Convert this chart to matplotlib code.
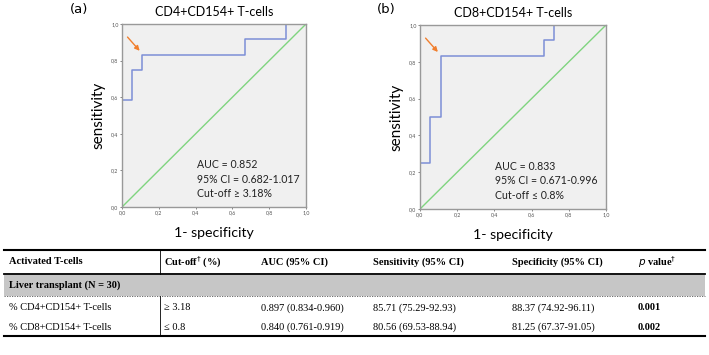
import matplotlib.pyplot as plt
from matplotlib.lines import Line2D

plt.rcParams['font.family'] = ['Lato', 'DejaVu Sans']

# ROC step curves
fpr_cd4 = [0.0, 0.0, 0.056, 0.056, 0.111, 0.111, 0.667, 0.667, 0.889, 0.889, 1.0]
tpr_cd4 = [0.0, 0.583, 0.583, 0.75, 0.75, 0.833, 0.833, 0.917, 0.917, 1.0, 1.0]
fpr_cd8 = [0.0, 0.0, 0.056, 0.056, 0.111, 0.111, 0.667, 0.667, 0.722, 0.722, 1.0]
tpr_cd8 = [0.0, 0.25, 0.25, 0.5, 0.5, 0.833, 0.833, 0.917, 0.917, 1.0, 1.0]

panels = ["(a)", "(b)"]
titles = ["CD4+CD154+ T-cells", "CD8+CD154+ T-cells"]
notes = [["AUC = 0.852", "95% CI = 0.682-1.017", "Cut-off \u2265 3.18%"],
         ["AUC = 0.833", "95% CI = 0.671-0.996", "Cut-off \u2264 0.8%"]]
tick_vals = [0.0, 0.2, 0.4, 0.6, 0.8, 1.0]
tick_labels = ["0,0", "0,2", "0,4", "0,6", "0,8", "1,0"]

# table content
headers = ["Activated T-cells", "Cut-off$^{\u2020}$ (%)", "AUC (95% CI)",
           "Sensitivity (95% CI)", "Specificity (95% CI)", "$p$ value$^{\u2020}$"]
group_label = "Liver transplant (N = 30)"
rows = [["% CD4+CD154+ T-cells", "\u2265 3.18", "0.897 (0.834-0.960)",
         "85.71 (75.29-92.93)", "88.37 (74.92-96.11)", "0.001"],
        ["% CD8+CD154+ T-cells", "\u2264 0.8", "0.840 (0.761-0.919)",
         "80.56 (69.53-88.94)", "81.25 (67.37-91.05)", "0.002"]]

W, H = 709, 355
fig = plt.figure(figsize=(W / 100, H / 100), dpi=100)

blue = "#7d8fd6"
green = "#7fd47f"
orange = "#f07f2e"

boxes = [(122, 24, 306, 207), (420, 25, 606, 209)]
curves = [(fpr_cd4, tpr_cd4), (fpr_cd8, tpr_cd8)]

for i in range(2):
    x0, y0, x1, y1 = boxes[i]
    ax = fig.add_axes([x0 / W, 1 - y1 / H, (x1 - x0) / W, (y1 - y0) / H])
    ax.set_facecolor("#f0f0f0")
    fx, ty = curves[i]
    ax.plot([0, 1], [0, 1], color=green, lw=1)
    ax.plot(fx, ty, color=blue, lw=1.1)
    ax.set_xlim(0, 1)
    ax.set_ylim(0, 1)
    ax.set_xticks(tick_vals)
    ax.set_xticklabels(tick_labels)
    ax.set_yticks(tick_vals)
    ax.set_yticklabels(tick_labels)
    ax.tick_params(labelsize=3.8, length=1.5, width=0.5, pad=1, colors="#555555")
    for s in ax.spines.values():
        s.set_color("#999999")
        s.set_linewidth(1)
    ax.annotate("", xy=(0.106, 0.842), xytext=(0.02, 0.94),
                arrowprops=dict(arrowstyle="-|>", color=orange, lw=1,
                                mutation_scale=7))
    for k, line in enumerate(notes[i]):
        ax.text(0.405, 0.23 - k * 0.077, line, fontsize=7.6, va="center",
                color="#222222")
    ax.set_ylabel("sensitivity", fontsize=11, labelpad=4)
    ax.set_xlabel("1- specificity", fontsize=10.2, labelpad=8)
    ax.set_title(titles[i], fontsize=9, pad=6)

# overlay in pixel coordinates for panel letters and table
ov = fig.add_axes([0, 0, 1, 1])
ov.set_xlim(0, W)
ov.set_ylim(H, 0)
ov.axis("off")
ov.text(70, 10, panels[0], fontsize=9.5, va="center", family="DejaVu Sans")
ov.text(377, 10, panels[1], fontsize=9.5, va="center", family="DejaVu Sans")

serif = ["Liberation Serif", "DejaVu Serif"]
col_x = [9, 164, 261, 373, 512, 638]
top, head_bot, band_bot, bot = 250, 274, 296, 336
row_y = [308, 327]
fs = 7.5

ov.add_line(Line2D([4, 705], [top, top], color="black", lw=1.5))
ov.add_line(Line2D([4, 705], [head_bot, head_bot], color="black", lw=1.3))
ov.fill_between([4, 705], head_bot + 0.7, band_bot, color="#c6c6c6", lw=0)
ov.add_line(Line2D([4, 705], [band_bot, band_bot], color="#555555", lw=0.6,
                   ls=(0, (1.5, 1.5))))
ov.add_line(Line2D([4, 705], [bot, bot], color="black", lw=1.5))
ov.add_line(Line2D([160, 160], [top, head_bot], color="black", lw=0.6))
ov.add_line(Line2D([160, 160], [band_bot, bot], color="black", lw=0.6))

for j, h in enumerate(headers):
    ov.text(col_x[j], (top + head_bot) / 2, h, fontsize=fs, family=serif,
            weight="bold", va="center")
ov.text(col_x[0], (head_bot + band_bot) / 2, group_label, fontsize=fs,
        family=serif, weight="bold", va="center")
for r, row in enumerate(rows):
    for j, cell in enumerate(row):
        ov.text(col_x[j], row_y[r], cell, fontsize=fs, family=serif,
                weight="bold" if j == 5 else "normal", va="center")

fig.savefig("out.png", dpi=100)
